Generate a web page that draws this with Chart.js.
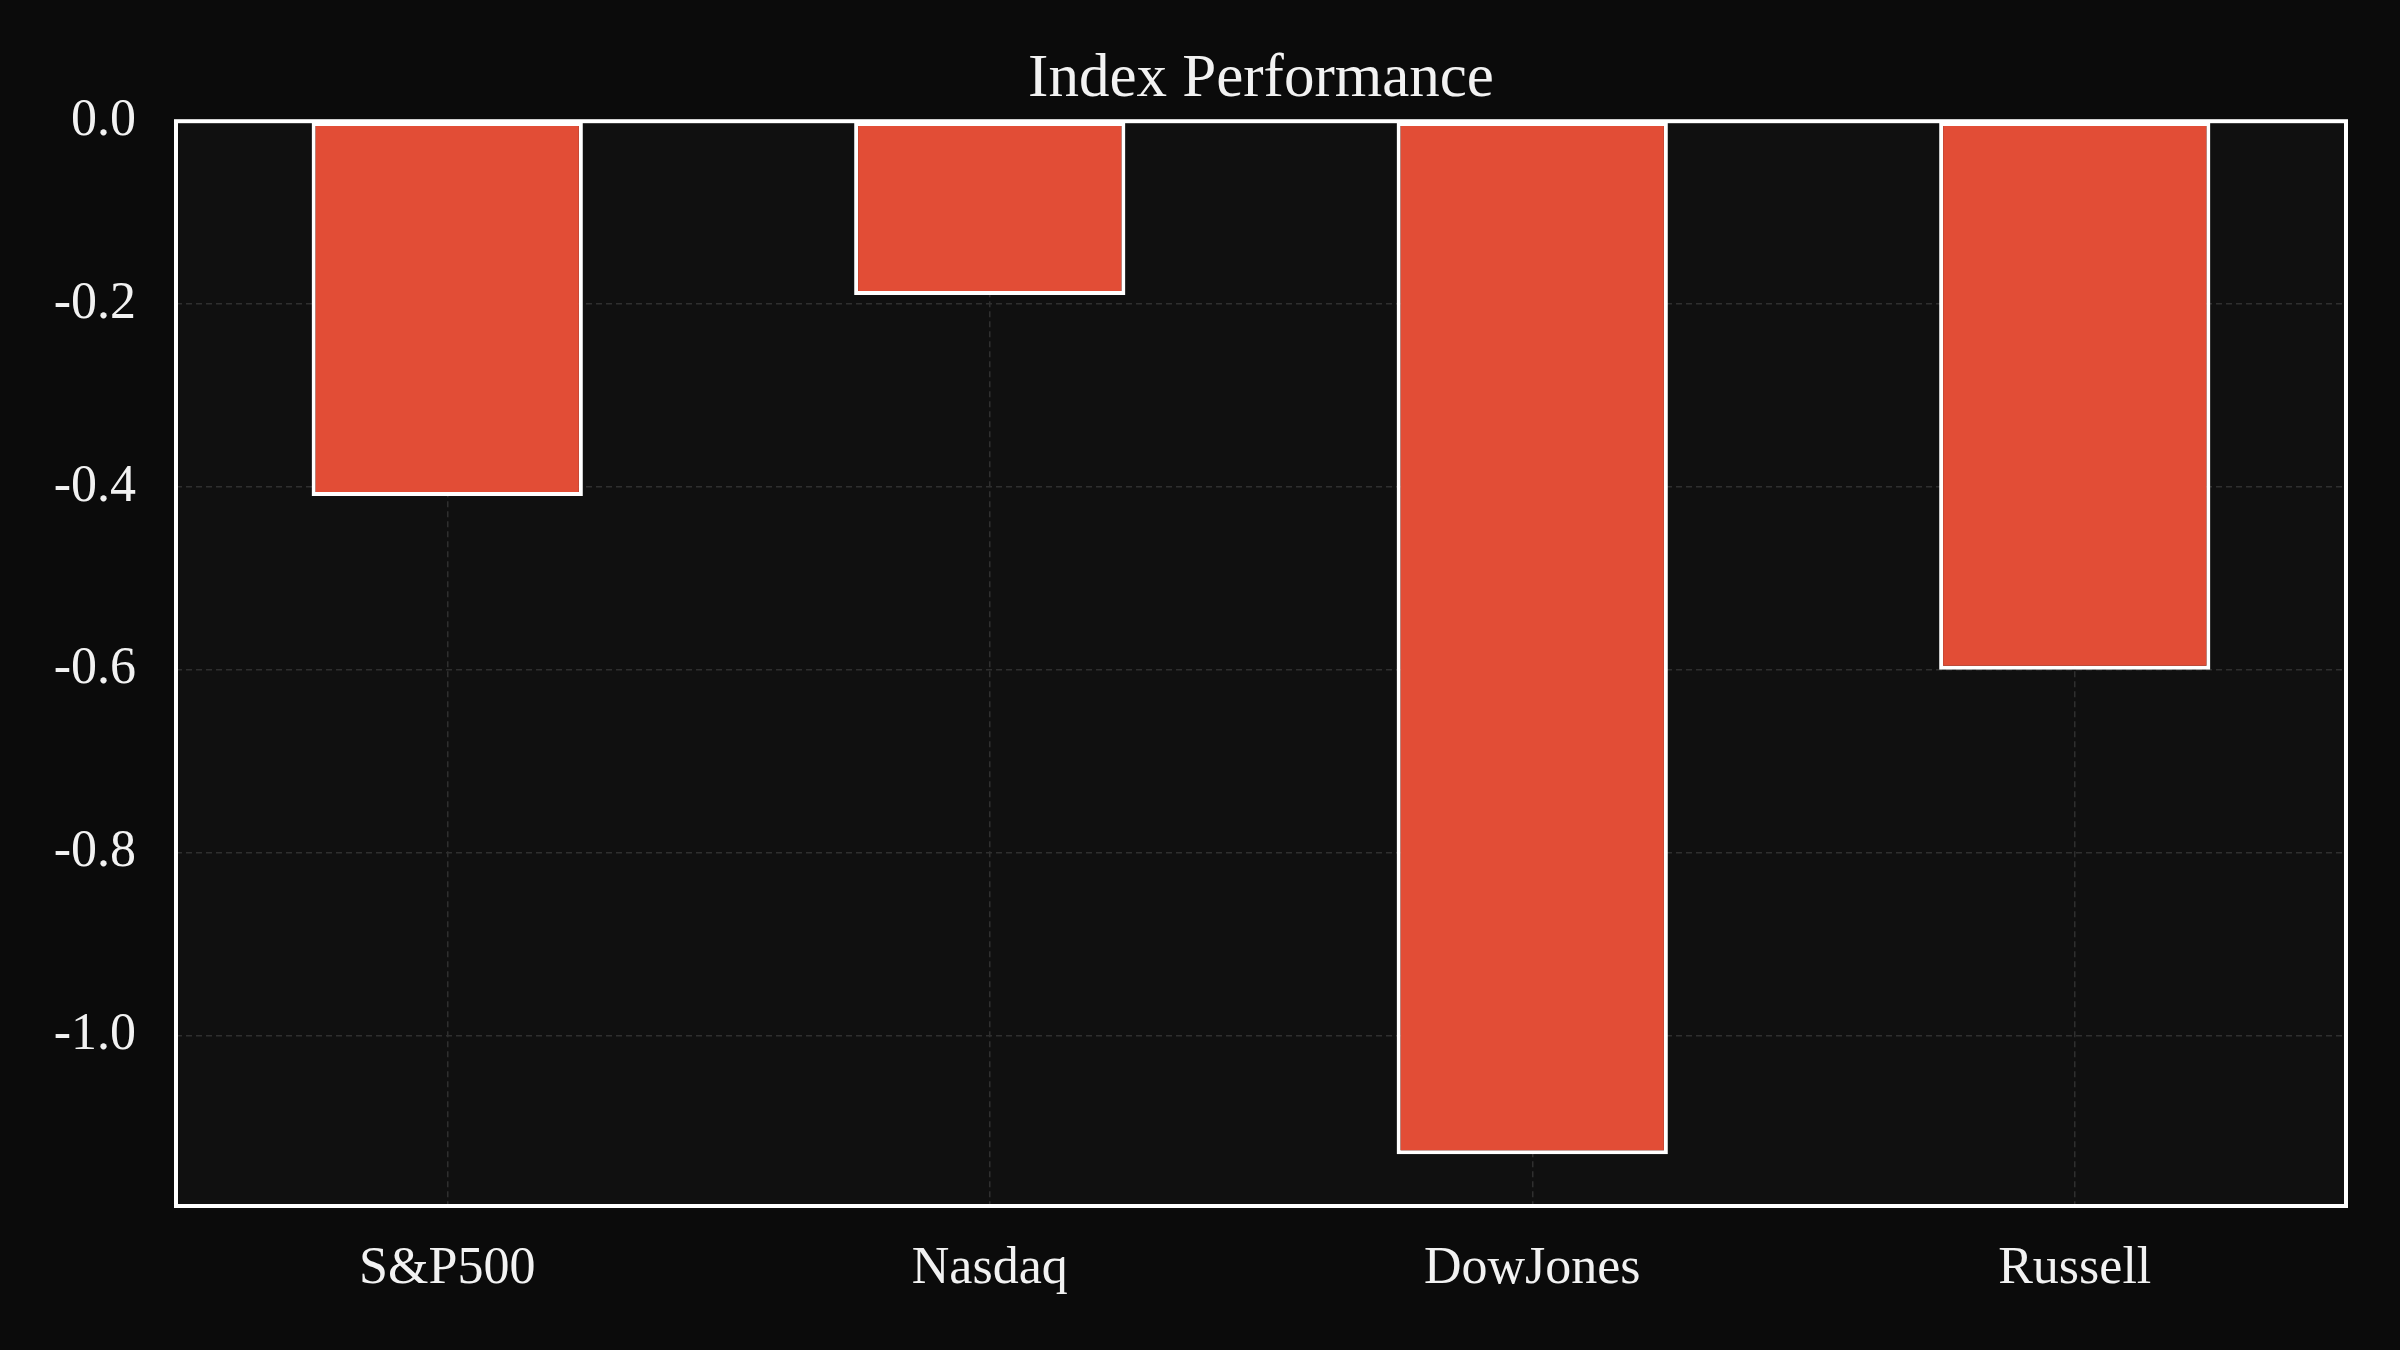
<!DOCTYPE html>
<html>
<head>
<meta charset="utf-8">
<script src="https://cdn.jsdelivr.net/npm/chart.js@4"></script>
<style>
  html, body { margin: 0; padding: 0; background: #0b0b0b; }
  #wrap { width: 2400px; height: 1350px; }
</style>
</head>
<body>
<div id="wrap"><canvas id="perfChart" width="2400" height="1350"></canvas></div>
<script>
const indexNames = ["S&P500", "Nasdaq", "DowJones", "Russell"];
const changes = [-0.41, -0.19, -1.13, -0.60];
const yTicks = [0.0, -0.2, -0.4, -0.6, -0.8, -1.0];

const fontFamily = "'Liberation Serif', 'DejaVu Serif', serif";
const gridColor = "#2f2f2f";

// axis range like matplotlib: bars start at 0, 5% margin below
const yMin = Math.min(...changes) * 1.05;

// plot background + white frame round the chart area
const framePlugin = {
    id: 'frame',
    beforeDraw(chart) {
        const { ctx, chartArea: a } = chart;
        ctx.save();
        ctx.fillStyle = '#0b0b0b';
        ctx.fillRect(0, 0, chart.width, chart.height);
        ctx.fillStyle = '#101010';
        ctx.fillRect(a.left, a.top, a.right - a.left, a.bottom - a.top);
        ctx.restore();
    },
    afterDraw(chart) {
        const { ctx, chartArea: a } = chart;
        ctx.save();
        ctx.strokeStyle = '#ffffff';
        ctx.lineWidth = 4;
        ctx.strokeRect(a.left, a.top, a.right - a.left, a.bottom - a.top);
        ctx.restore();
    }
};

const ctx = document.getElementById("perfChart").getContext('2d');
new Chart(ctx, {
    type: 'bar',
    data: {
        labels: indexNames,
        datasets: [{
            label: 'Change',
            data: changes,
            backgroundColor: '#e24d36',
            borderColor: '#ffffff',
            borderWidth: 4,
            borderSkipped: false,
            categoryPercentage: 1.0,
            barPercentage: 0.5
        }]
    },
    options: {
        responsive: false,
        animation: false,
        devicePixelRatio: 1,
        layout: { padding: { left: 0, right: 54, top: 0, bottom: 0 } },
        plugins: {
            legend: { display: false },
            tooltip: { enabled: false },
            title: {
                display: true,
                fullSize: false,
                text: 'Index Performance',
                color: '#f2f2f2',
                font: { family: fontFamily, size: 61, weight: 'normal', lineHeight: 1.2 },
                padding: { top: 43, bottom: 5 }
            }
        },
        scales: {
            x: {
                offset: true,
                grid: {
                    offset: false,
                    color: gridColor,
                    lineWidth: 1.5,
                    drawTicks: false
                },
                border: { display: false, dash: [6, 4] },
                ticks: {
                    color: '#f2f2f2',
                    padding: 32,
                    font: { family: fontFamily, size: 52 }
                },
                afterFit(scale) { scale.height = 144; }
            },
            y: {
                min: yMin,
                max: 0,
                grid: {
                    color: gridColor,
                    lineWidth: 1.5,
                    drawTicks: false
                },
                border: { display: false, dash: [6, 4] },
                ticks: {
                    color: '#f2f2f2',
                    padding: 40,
                    font: { family: fontFamily, size: 52 },
                    callback: (v) => v.toFixed(1)
                },
                afterBuildTicks(scale) {
                    scale.ticks = yTicks.map(v => ({ value: v }));
                },
                afterFit(scale) { scale.width = 176; }
            }
        }
    },
    plugins: [framePlugin]
});
</script>
</body>
</html>
